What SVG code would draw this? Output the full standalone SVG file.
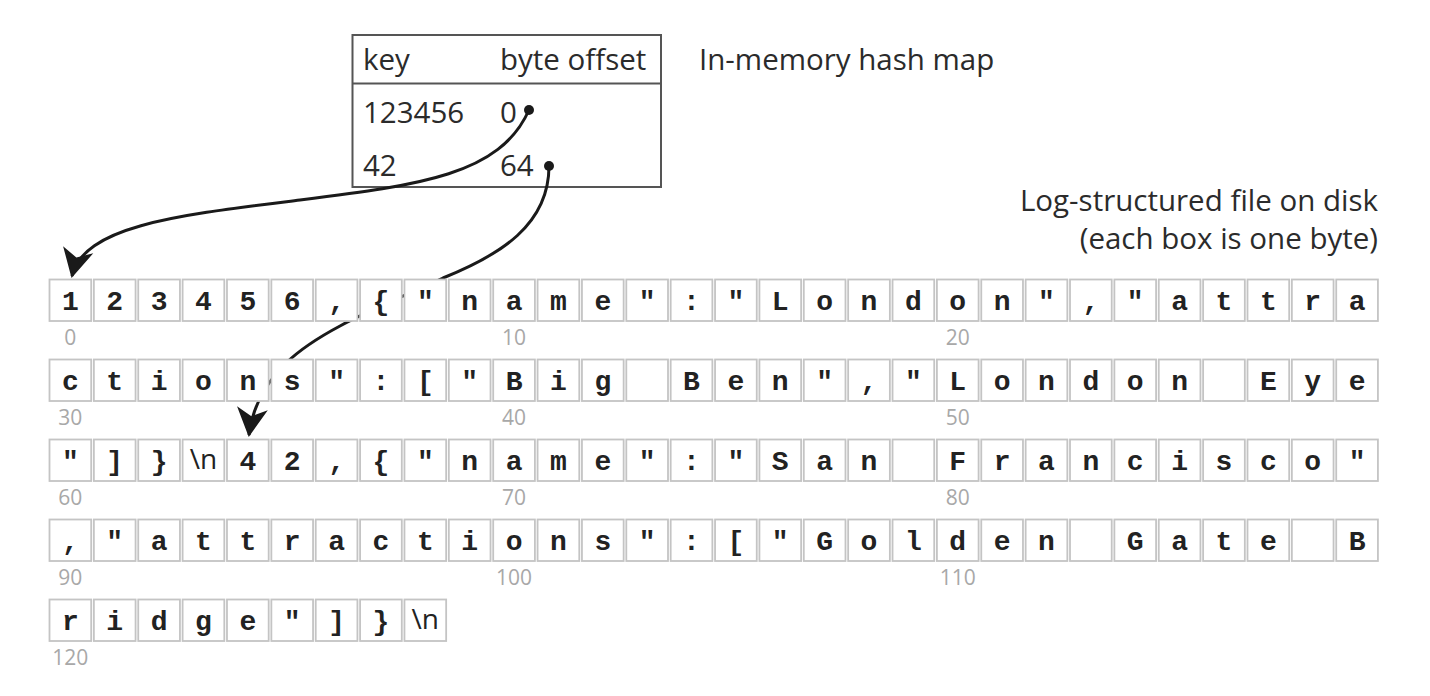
<svg xmlns="http://www.w3.org/2000/svg" xmlns:xlink="http://www.w3.org/1999/xlink" width="1430" height="696" viewBox="0 0 1430 696">
<style>
.lbl{font-family:"Open Sans","Liberation Sans",sans-serif;font-size:29.5px;fill:#2b2b2b}
.ch{font-family:"Liberation Mono","Courier New",monospace;font-weight:bold;font-size:28px;fill:#222;text-anchor:middle}
.nl{font-family:"Open Sans","Liberation Sans",sans-serif;font-size:28px;fill:#222;text-anchor:middle}
.idx{font-family:"Open Sans","Liberation Sans",sans-serif;font-size:21px;fill:#a8a8a8;text-anchor:middle}
.conn{fill:none;stroke:#1a1a1a;stroke-width:3}
</style>
<defs>
<rect id="box" width="41.7" height="41.5" fill="#fff" stroke="#c4c4c4" stroke-width="1.8"/>
<marker id="ah" markerUnits="userSpaceOnUse" markerWidth="50" markerHeight="50" viewBox="-35 -25 50 50" refX="0" refY="0" orient="auto">
<path d="M2,0 L-27,-15.5 L-19,0 L-27,15.5 Z" fill="#1a1a1a"/>
</marker>
</defs>
<rect width="1430" height="696" fill="#fff"/>

<g id="hashmap">
<rect x="352.5" y="35" width="308.5" height="152" fill="#fff" stroke="#555" stroke-width="2"/>
<line x1="352.5" y1="83.5" x2="661" y2="83.5" stroke="#555" stroke-width="2"/>
<text class="lbl" x="363" y="70">key</text>
<text class="lbl" x="500" y="70">byte offset</text>
<text class="lbl" x="363" y="122.5">123456</text>
<text class="lbl" x="500" y="122.5">0</text>
<text class="lbl" x="363" y="176">42</text>
<text class="lbl" x="500" y="176">64</text>
</g>
<g id="labels">
<text class="lbl" x="699" y="70">In-memory hash map</text>
<text class="lbl" x="1378" y="211" text-anchor="end">Log-structured file on disk</text>
<text class="lbl" x="1378" y="249" text-anchor="end">(each box is one byte)</text>
</g>

<g id="connectors">
<path class="conn" d="M549,166 C549,225 500,255 443,278 C400,298 370,310 340,326 S 257,372 249,435" marker-end="url(#ah)"/>
<path class="conn" d="M529,110 C500,175 420,185 300,200 C180,215 84,225 72,276" marker-end="url(#ah)"/>
<circle cx="529" cy="110" r="5" fill="#1a1a1a"/>
<circle cx="549" cy="166" r="5" fill="#1a1a1a"/>
</g>

<g id="row1" transform="translate(0,279.5)">
<g id="b0"><use xlink:href="#box" x="49.5"/><text class="ch" x="70.35" y="30">1</text></g>
<g id="b1"><use xlink:href="#box" x="93.87"/><text class="ch" x="114.72" y="30">2</text></g>
<g id="b2"><use xlink:href="#box" x="138.24"/><text class="ch" x="159.09" y="30">3</text></g>
<g id="b3"><use xlink:href="#box" x="182.61"/><text class="ch" x="203.46" y="30">4</text></g>
<g id="b4"><use xlink:href="#box" x="226.98"/><text class="ch" x="247.83" y="30">5</text></g>
<g id="b5"><use xlink:href="#box" x="271.35"/><text class="ch" x="292.2" y="30">6</text></g>
<g id="b6"><use xlink:href="#box" x="315.72"/><text class="ch" x="336.57" y="30">,</text></g>
<g id="b7"><use xlink:href="#box" x="360.09"/><text class="ch" x="380.94" y="30">{</text></g>
<g id="b8"><use xlink:href="#box" x="404.46"/><text class="ch" x="425.31" y="30">"</text></g>
<g id="b9"><use xlink:href="#box" x="448.83"/><text class="ch" x="469.68" y="30">n</text></g>
<g id="b10"><use xlink:href="#box" x="493.2"/><text class="ch" x="514.05" y="30">a</text></g>
<g id="b11"><use xlink:href="#box" x="537.57"/><text class="ch" x="558.42" y="30">m</text></g>
<g id="b12"><use xlink:href="#box" x="581.94"/><text class="ch" x="602.79" y="30">e</text></g>
<g id="b13"><use xlink:href="#box" x="626.31"/><text class="ch" x="647.16" y="30">"</text></g>
<g id="b14"><use xlink:href="#box" x="670.68"/><text class="ch" x="691.53" y="30">:</text></g>
<g id="b15"><use xlink:href="#box" x="715.05"/><text class="ch" x="735.9" y="30">"</text></g>
<g id="b16"><use xlink:href="#box" x="759.42"/><text class="ch" x="780.27" y="30">L</text></g>
<g id="b17"><use xlink:href="#box" x="803.79"/><text class="ch" x="824.64" y="30">o</text></g>
<g id="b18"><use xlink:href="#box" x="848.16"/><text class="ch" x="869.01" y="30">n</text></g>
<g id="b19"><use xlink:href="#box" x="892.53"/><text class="ch" x="913.38" y="30">d</text></g>
<g id="b20"><use xlink:href="#box" x="936.9"/><text class="ch" x="957.75" y="30">o</text></g>
<g id="b21"><use xlink:href="#box" x="981.27"/><text class="ch" x="1002.12" y="30">n</text></g>
<g id="b22"><use xlink:href="#box" x="1025.64"/><text class="ch" x="1046.49" y="30">"</text></g>
<g id="b23"><use xlink:href="#box" x="1070.01"/><text class="ch" x="1090.86" y="30">,</text></g>
<g id="b24"><use xlink:href="#box" x="1114.38"/><text class="ch" x="1135.23" y="30">"</text></g>
<g id="b25"><use xlink:href="#box" x="1158.75"/><text class="ch" x="1179.6" y="30">a</text></g>
<g id="b26"><use xlink:href="#box" x="1203.12"/><text class="ch" x="1223.97" y="30">t</text></g>
<g id="b27"><use xlink:href="#box" x="1247.49"/><text class="ch" x="1268.34" y="30">t</text></g>
<g id="b28"><use xlink:href="#box" x="1291.86"/><text class="ch" x="1312.71" y="30">r</text></g>
<g id="b29"><use xlink:href="#box" x="1336.23"/><text class="ch" x="1357.08" y="30">a</text></g>
<text class="idx" x="70.35" y="65.5">0</text>
<text class="idx" x="514.05" y="65.5">10</text>
<text class="idx" x="957.75" y="65.5">20</text>
</g>

<g id="row2" transform="translate(0,359.5)">
<g id="b30"><use xlink:href="#box" x="49.5"/><text class="ch" x="70.35" y="30">c</text></g>
<g id="b31"><use xlink:href="#box" x="93.87"/><text class="ch" x="114.72" y="30">t</text></g>
<g id="b32"><use xlink:href="#box" x="138.24"/><text class="ch" x="159.09" y="30">i</text></g>
<g id="b33"><use xlink:href="#box" x="182.61"/><text class="ch" x="203.46" y="30">o</text></g>
<g id="b34"><use xlink:href="#box" x="226.98"/><text class="ch" x="247.83" y="30">n</text></g>
<g id="b35"><use xlink:href="#box" x="271.35"/><text class="ch" x="292.2" y="30">s</text></g>
<g id="b36"><use xlink:href="#box" x="315.72"/><text class="ch" x="336.57" y="30">"</text></g>
<g id="b37"><use xlink:href="#box" x="360.09"/><text class="ch" x="380.94" y="30">:</text></g>
<g id="b38"><use xlink:href="#box" x="404.46"/><text class="ch" x="425.31" y="30">[</text></g>
<g id="b39"><use xlink:href="#box" x="448.83"/><text class="ch" x="469.68" y="30">"</text></g>
<g id="b40"><use xlink:href="#box" x="493.2"/><text class="ch" x="514.05" y="30">B</text></g>
<g id="b41"><use xlink:href="#box" x="537.57"/><text class="ch" x="558.42" y="30">i</text></g>
<g id="b42"><use xlink:href="#box" x="581.94"/><text class="ch" x="602.79" y="30">g</text></g>
<g id="b43"><use xlink:href="#box" x="626.31"/></g>
<g id="b44"><use xlink:href="#box" x="670.68"/><text class="ch" x="691.53" y="30">B</text></g>
<g id="b45"><use xlink:href="#box" x="715.05"/><text class="ch" x="735.9" y="30">e</text></g>
<g id="b46"><use xlink:href="#box" x="759.42"/><text class="ch" x="780.27" y="30">n</text></g>
<g id="b47"><use xlink:href="#box" x="803.79"/><text class="ch" x="824.64" y="30">"</text></g>
<g id="b48"><use xlink:href="#box" x="848.16"/><text class="ch" x="869.01" y="30">,</text></g>
<g id="b49"><use xlink:href="#box" x="892.53"/><text class="ch" x="913.38" y="30">"</text></g>
<g id="b50"><use xlink:href="#box" x="936.9"/><text class="ch" x="957.75" y="30">L</text></g>
<g id="b51"><use xlink:href="#box" x="981.27"/><text class="ch" x="1002.12" y="30">o</text></g>
<g id="b52"><use xlink:href="#box" x="1025.64"/><text class="ch" x="1046.49" y="30">n</text></g>
<g id="b53"><use xlink:href="#box" x="1070.01"/><text class="ch" x="1090.86" y="30">d</text></g>
<g id="b54"><use xlink:href="#box" x="1114.38"/><text class="ch" x="1135.23" y="30">o</text></g>
<g id="b55"><use xlink:href="#box" x="1158.75"/><text class="ch" x="1179.6" y="30">n</text></g>
<g id="b56"><use xlink:href="#box" x="1203.12"/></g>
<g id="b57"><use xlink:href="#box" x="1247.49"/><text class="ch" x="1268.34" y="30">E</text></g>
<g id="b58"><use xlink:href="#box" x="1291.86"/><text class="ch" x="1312.71" y="30">y</text></g>
<g id="b59"><use xlink:href="#box" x="1336.23"/><text class="ch" x="1357.08" y="30">e</text></g>
<text class="idx" x="70.35" y="65.5">30</text>
<text class="idx" x="514.05" y="65.5">40</text>
<text class="idx" x="957.75" y="65.5">50</text>
</g>

<g id="row3" transform="translate(0,439.5)">
<g id="b60"><use xlink:href="#box" x="49.5"/><text class="ch" x="70.35" y="30">"</text></g>
<g id="b61"><use xlink:href="#box" x="93.87"/><text class="ch" x="114.72" y="30">]</text></g>
<g id="b62"><use xlink:href="#box" x="138.24"/><text class="ch" x="159.09" y="30">}</text></g>
<g id="b63"><use xlink:href="#box" x="182.61"/><text class="nl" x="203.46" y="29">\n</text></g>
<g id="b64"><use xlink:href="#box" x="226.98"/><text class="ch" x="247.83" y="30">4</text></g>
<g id="b65"><use xlink:href="#box" x="271.35"/><text class="ch" x="292.2" y="30">2</text></g>
<g id="b66"><use xlink:href="#box" x="315.72"/><text class="ch" x="336.57" y="30">,</text></g>
<g id="b67"><use xlink:href="#box" x="360.09"/><text class="ch" x="380.94" y="30">{</text></g>
<g id="b68"><use xlink:href="#box" x="404.46"/><text class="ch" x="425.31" y="30">"</text></g>
<g id="b69"><use xlink:href="#box" x="448.83"/><text class="ch" x="469.68" y="30">n</text></g>
<g id="b70"><use xlink:href="#box" x="493.2"/><text class="ch" x="514.05" y="30">a</text></g>
<g id="b71"><use xlink:href="#box" x="537.57"/><text class="ch" x="558.42" y="30">m</text></g>
<g id="b72"><use xlink:href="#box" x="581.94"/><text class="ch" x="602.79" y="30">e</text></g>
<g id="b73"><use xlink:href="#box" x="626.31"/><text class="ch" x="647.16" y="30">"</text></g>
<g id="b74"><use xlink:href="#box" x="670.68"/><text class="ch" x="691.53" y="30">:</text></g>
<g id="b75"><use xlink:href="#box" x="715.05"/><text class="ch" x="735.9" y="30">"</text></g>
<g id="b76"><use xlink:href="#box" x="759.42"/><text class="ch" x="780.27" y="30">S</text></g>
<g id="b77"><use xlink:href="#box" x="803.79"/><text class="ch" x="824.64" y="30">a</text></g>
<g id="b78"><use xlink:href="#box" x="848.16"/><text class="ch" x="869.01" y="30">n</text></g>
<g id="b79"><use xlink:href="#box" x="892.53"/></g>
<g id="b80"><use xlink:href="#box" x="936.9"/><text class="ch" x="957.75" y="30">F</text></g>
<g id="b81"><use xlink:href="#box" x="981.27"/><text class="ch" x="1002.12" y="30">r</text></g>
<g id="b82"><use xlink:href="#box" x="1025.64"/><text class="ch" x="1046.49" y="30">a</text></g>
<g id="b83"><use xlink:href="#box" x="1070.01"/><text class="ch" x="1090.86" y="30">n</text></g>
<g id="b84"><use xlink:href="#box" x="1114.38"/><text class="ch" x="1135.23" y="30">c</text></g>
<g id="b85"><use xlink:href="#box" x="1158.75"/><text class="ch" x="1179.6" y="30">i</text></g>
<g id="b86"><use xlink:href="#box" x="1203.12"/><text class="ch" x="1223.97" y="30">s</text></g>
<g id="b87"><use xlink:href="#box" x="1247.49"/><text class="ch" x="1268.34" y="30">c</text></g>
<g id="b88"><use xlink:href="#box" x="1291.86"/><text class="ch" x="1312.71" y="30">o</text></g>
<g id="b89"><use xlink:href="#box" x="1336.23"/><text class="ch" x="1357.08" y="30">"</text></g>
<text class="idx" x="70.35" y="65.5">60</text>
<text class="idx" x="514.05" y="65.5">70</text>
<text class="idx" x="957.75" y="65.5">80</text>
</g>

<g id="row4" transform="translate(0,519.5)">
<g id="b90"><use xlink:href="#box" x="49.5"/><text class="ch" x="70.35" y="30">,</text></g>
<g id="b91"><use xlink:href="#box" x="93.87"/><text class="ch" x="114.72" y="30">"</text></g>
<g id="b92"><use xlink:href="#box" x="138.24"/><text class="ch" x="159.09" y="30">a</text></g>
<g id="b93"><use xlink:href="#box" x="182.61"/><text class="ch" x="203.46" y="30">t</text></g>
<g id="b94"><use xlink:href="#box" x="226.98"/><text class="ch" x="247.83" y="30">t</text></g>
<g id="b95"><use xlink:href="#box" x="271.35"/><text class="ch" x="292.2" y="30">r</text></g>
<g id="b96"><use xlink:href="#box" x="315.72"/><text class="ch" x="336.57" y="30">a</text></g>
<g id="b97"><use xlink:href="#box" x="360.09"/><text class="ch" x="380.94" y="30">c</text></g>
<g id="b98"><use xlink:href="#box" x="404.46"/><text class="ch" x="425.31" y="30">t</text></g>
<g id="b99"><use xlink:href="#box" x="448.83"/><text class="ch" x="469.68" y="30">i</text></g>
<g id="b100"><use xlink:href="#box" x="493.2"/><text class="ch" x="514.05" y="30">o</text></g>
<g id="b101"><use xlink:href="#box" x="537.57"/><text class="ch" x="558.42" y="30">n</text></g>
<g id="b102"><use xlink:href="#box" x="581.94"/><text class="ch" x="602.79" y="30">s</text></g>
<g id="b103"><use xlink:href="#box" x="626.31"/><text class="ch" x="647.16" y="30">"</text></g>
<g id="b104"><use xlink:href="#box" x="670.68"/><text class="ch" x="691.53" y="30">:</text></g>
<g id="b105"><use xlink:href="#box" x="715.05"/><text class="ch" x="735.9" y="30">[</text></g>
<g id="b106"><use xlink:href="#box" x="759.42"/><text class="ch" x="780.27" y="30">"</text></g>
<g id="b107"><use xlink:href="#box" x="803.79"/><text class="ch" x="824.64" y="30">G</text></g>
<g id="b108"><use xlink:href="#box" x="848.16"/><text class="ch" x="869.01" y="30">o</text></g>
<g id="b109"><use xlink:href="#box" x="892.53"/><text class="ch" x="913.38" y="30">l</text></g>
<g id="b110"><use xlink:href="#box" x="936.9"/><text class="ch" x="957.75" y="30">d</text></g>
<g id="b111"><use xlink:href="#box" x="981.27"/><text class="ch" x="1002.12" y="30">e</text></g>
<g id="b112"><use xlink:href="#box" x="1025.64"/><text class="ch" x="1046.49" y="30">n</text></g>
<g id="b113"><use xlink:href="#box" x="1070.01"/></g>
<g id="b114"><use xlink:href="#box" x="1114.38"/><text class="ch" x="1135.23" y="30">G</text></g>
<g id="b115"><use xlink:href="#box" x="1158.75"/><text class="ch" x="1179.6" y="30">a</text></g>
<g id="b116"><use xlink:href="#box" x="1203.12"/><text class="ch" x="1223.97" y="30">t</text></g>
<g id="b117"><use xlink:href="#box" x="1247.49"/><text class="ch" x="1268.34" y="30">e</text></g>
<g id="b118"><use xlink:href="#box" x="1291.86"/></g>
<g id="b119"><use xlink:href="#box" x="1336.23"/><text class="ch" x="1357.08" y="30">B</text></g>
<text class="idx" x="70.35" y="65.5">90</text>
<text class="idx" x="514.05" y="65.5">100</text>
<text class="idx" x="957.75" y="65.5">110</text>
</g>

<g id="row5" transform="translate(0,599.5)">
<g id="b120"><use xlink:href="#box" x="49.5"/><text class="ch" x="70.35" y="30">r</text></g>
<g id="b121"><use xlink:href="#box" x="93.87"/><text class="ch" x="114.72" y="30">i</text></g>
<g id="b122"><use xlink:href="#box" x="138.24"/><text class="ch" x="159.09" y="30">d</text></g>
<g id="b123"><use xlink:href="#box" x="182.61"/><text class="ch" x="203.46" y="30">g</text></g>
<g id="b124"><use xlink:href="#box" x="226.98"/><text class="ch" x="247.83" y="30">e</text></g>
<g id="b125"><use xlink:href="#box" x="271.35"/><text class="ch" x="292.2" y="30">"</text></g>
<g id="b126"><use xlink:href="#box" x="315.72"/><text class="ch" x="336.57" y="30">]</text></g>
<g id="b127"><use xlink:href="#box" x="360.09"/><text class="ch" x="380.94" y="30">}</text></g>
<g id="b128"><use xlink:href="#box" x="404.46"/><text class="nl" x="425.31" y="29">\n</text></g>
<text class="idx" x="70.35" y="65.5">120</text>
</g>
</svg>
